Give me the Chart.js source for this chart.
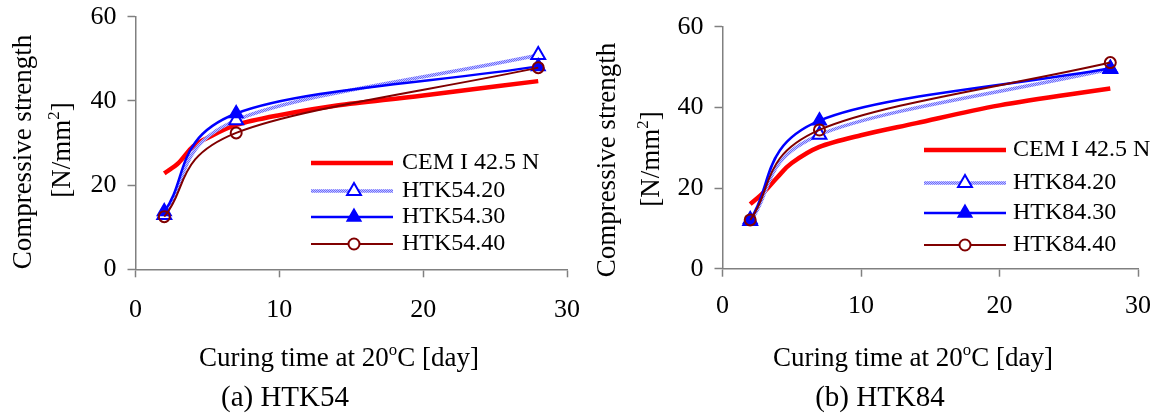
<!DOCTYPE html>
<html>
<head>
<meta charset="utf-8">
<script src="https://cdn.jsdelivr.net/npm/chart.js@4.4.1/dist/chart.umd.min.js"></script>
<style>
  body { margin: 0; background: #fff; width: 1160px; height: 415px; position: relative; overflow: hidden;
         font-family: 'Liberation Serif', 'Times New Roman', serif; color: #000; }
  .panel { position: absolute; top: 0; width: 580px; height: 415px; }
  .lbl { position: absolute; white-space: nowrap; line-height: 1; transform: translate(-50%, -50%); }
  .vlbl { position: absolute; white-space: nowrap; line-height: 1; transform: translate(-50%, -50%) rotate(-90deg); }
  sup { font-size: 0.62em; vertical-align: 0.62em; line-height: 0; }
</style>
</head>
<body>
<div class="panel" style="left:0"><canvas id="chartA" width="580" height="415"></canvas></div>
<div class="panel" style="left:580px"><canvas id="chartB" width="580" height="415"></canvas></div>

<!-- axis titles and captions -->
<div class="vlbl" style="left:22px; top:152px; font-size:27px">Compressive strength</div>
<div class="vlbl" style="left:61px; top:150px; font-size:27px">[N/mm<sup>2</sup>]</div>
<div class="lbl" style="left:339px; top:357px; font-size:27px">Curing time at 20<sup>o</sup>C [day]</div>
<div class="lbl" style="left:285px; top:396px; font-size:29px">(a) HTK54</div>

<div class="vlbl" style="left:606px; top:160px; font-size:27px">Compressive strength</div>
<div class="vlbl" style="left:650px; top:159px; font-size:27px">[N/mm<sup>2</sup>]</div>
<div class="lbl" style="left:913px; top:357px; font-size:27px">Curing time at 20<sup>o</sup>C [day]</div>
<div class="lbl" style="left:880px; top:396px; font-size:29px">(b) HTK84</div>

<script>
// Values

// curing days
const daysHTK = [2, 7, 28];
const daysCEM = [2, 3, 4, 5, 7, 10, 14, 20, 28];

// (a) HTK54
const cemA = [22.8, 25.3, 29.2, 31.2, 34.3, 36.6, 38.9, 41.3, 44.7];
const htk5420 = [12.9, 35.4, 50.9];
const htk5430 = [13.7, 37.0, 48.2];
const htk5440 = [12.5, 32.4, 47.9];

// (b) HTK84
const cemB = [16.0, 19.0, 22.8, 26.2, 30.2, 33.1, 36.1, 40.5, 44.7];
const htk8420 = [11.8, 33.2, 49.5];
const htk8430 = [12.2, 36.7, 49.7];
const htk8440 = [12.1, 34.4, 51.1];

// tick labels
const xTicks = [0, 10, 20, 30];
const yTicks = [0, 20, 40, 60];

const AXIS_GREY = '#808080';
const FONT = 'Liberation Serif';

// dotted light blue line like the original "HTK..20" series
function hatchPattern() {
    const c = document.createElement('canvas');
    c.width = 2; c.height = 2;
    const g = c.getContext('2d');
    g.fillStyle = '#c4c4ff';
    g.fillRect(0, 0, 2, 2);
    g.fillStyle = '#6a6aff';
    g.fillRect(0, 0, 1, 1);
    g.fillRect(1, 1, 1, 1);
    return g.createPattern(c, 'repeat');
}

function toXY(days, vals) {
    return days.map((d, i) => ({ x: d, y: vals[i] }));
}

function buildDatasets(names, cem, s20, s30, s40) {
    return [
        {
            label: names[0], data: toXY(daysCEM, cem),
            borderColor: '#ff0000', borderWidth: 4.5, pointRadius: 0, tension: 0.4, order: 4
        },
        {
            label: names[1], data: toXY(daysHTK, s20),
            borderColor: hatchPattern(), borderWidth: 3.5, tension: 0.4, order: 3,
            pointStyle: 'triangle', pointRadius: 8, pointBorderWidth: 2,
            pointBackgroundColor: '#ffffff', pointBorderColor: '#0000ff'
        },
        {
            label: names[2], data: toXY(daysHTK, s30),
            borderColor: '#0000ff', borderWidth: 2.5, tension: 0.4, order: 2,
            pointStyle: 'triangle', pointRadius: 8, pointBorderWidth: 1.5,
            pointBackgroundColor: '#0000ff', pointBorderColor: '#0000ff'
        },
        {
            label: names[3], data: toXY(daysHTK, s40),
            borderColor: '#800000', borderWidth: 2, tension: 0.4, order: 1,
            pointStyle: 'circle', pointRadius: 5.5, pointBorderWidth: 2,
            pointBackgroundColor: 'rgba(0,0,0,0)', pointBorderColor: '#800000'
        }
    ];
}

// Spreadsheet style smoothing: Catmull-Rom control points (1/6 of the
// neighbour difference, 1/3 of the chord at the ends) instead of
// Chart.js' distance weighted ones. Uses the positions the scales computed.
const excelSmooth = {
    id: 'excelSmooth',
    beforeDatasetDraw(chart, args) {
        const meta = args.meta;
        const pts = meta.data;
        if (!meta.dataset || pts.length < 2) return;
        meta.dataset.updateControlPoints(chart.chartArea, meta.indexAxis);
        const last = pts.length - 1;
        for (let i = 0; i <= last; i++) {
            const p = pts[i];
            let dx, dy;
            if (i === 0) {
                dx = (pts[1].x - p.x) / 3; dy = (pts[1].y - p.y) / 3;
            } else if (i === last) {
                dx = (p.x - pts[i - 1].x) / 3; dy = (p.y - pts[i - 1].y) / 3;
            } else {
                dx = (pts[i + 1].x - pts[i - 1].x) / 6; dy = (pts[i + 1].y - pts[i - 1].y) / 6;
            }
            p.cp1x = p.x - dx; p.cp1y = p.y - dy;
            p.cp2x = p.x + dx; p.cp2y = p.y + dy;
        }
    }
};

// legend drawn inside the plot, like the original
const insideLegend = {
    id: 'insideLegend',
    afterDatasetsDraw(chart, args, opts) {
        const ctx = chart.ctx;
        ctx.save();
        chart.data.datasets.forEach((ds, i) => {
            const y = opts.rows[i];
            ctx.strokeStyle = ds.borderColor;
            ctx.lineWidth = ds.borderWidth;
            ctx.beginPath();
            ctx.moveTo(opts.x1, y);
            ctx.lineTo(opts.x2, y);
            ctx.stroke();
            if (ds.pointRadius > 0) {
                ctx.fillStyle = ds.pointStyle === 'circle' ? '#ffffff' : ds.pointBackgroundColor;
                ctx.strokeStyle = ds.pointBorderColor;
                ctx.lineWidth = ds.pointBorderWidth;
                Chart.helpers.drawPoint(ctx, {
                    pointStyle: ds.pointStyle, radius: ds.pointRadius,
                    rotation: 0, borderWidth: ds.pointBorderWidth
                }, opts.xm, y);
            }
            ctx.fillStyle = '#000';
            ctx.font = '24px "' + FONT + '"';
            ctx.textBaseline = 'middle';
            ctx.textAlign = 'left';
            ctx.fillText(ds.label, opts.xt, y);
        });
        ctx.restore();
    }
};

function makeChart(id, datasets, lay) {
    const tickFont = { family: FONT, size: 26 };
    return new Chart(document.getElementById(id), {
        type: 'line',
        data: { datasets: datasets },
        plugins: [excelSmooth, insideLegend],
        options: {
            responsive: false,
            animation: false,
            devicePixelRatio: 1,
            layout: { padding: { left: 0, right: lay.padRight, top: lay.padTop, bottom: 0 } },
            plugins: {
                legend: { display: false },
                tooltip: { enabled: false },
                insideLegend: lay.legend
            },
            scales: {
                x: {
                    type: 'linear', min: 0, max: 30,
                    afterBuildTicks: s => { s.ticks = xTicks.map(v => ({ value: v })); },
                    ticks: { font: tickFont, color: '#000', padding: lay.xPad, maxRotation: 0 },
                    grid: { drawOnChartArea: false, drawTicks: true, tickLength: 8, tickColor: AXIS_GREY, tickWidth: 1.5 },
                    border: { display: true, color: AXIS_GREY, width: 1.5 },
                    afterFit: s => { s.height = lay.xHeight; s.paddingLeft = 0; s.paddingRight = 0; }
                },
                y: {
                    type: 'linear', min: 0, max: 60,
                    afterBuildTicks: s => { s.ticks = yTicks.map(v => ({ value: v })); },
                    ticks: { font: tickFont, color: '#000', padding: 11 },
                    grid: { drawOnChartArea: false, drawTicks: true, tickLength: 8, tickColor: AXIS_GREY, tickWidth: 1.5 },
                    border: { display: true, color: AXIS_GREY, width: 1.5 },
                    afterFit: s => { s.width = lay.yWidth; s.paddingTop = 0; s.paddingBottom = 0; }
                }
            }
        }
    });
}

makeChart('chartA',
    buildDatasets(['CEM I 42.5 N', 'HTK54.20', 'HTK54.30', 'HTK54.40'], cemA, htk5420, htk5430, htk5440),
    {
        yWidth: 135.5, xHeight: 145.7, padRight: 13, padTop: 16.7, xPad: 17,
        legend: { x1: 311, x2: 393, xm: 354, xt: 402, rows: [163, 191, 217, 244] }
    });

makeChart('chartB',
    buildDatasets(['CEM I 42.5 N', 'HTK84.20', 'HTK84.30', 'HTK84.40'], cemB, htk8420, htk8430, htk8440),
    {
        yWidth: 142.5, xHeight: 146.3, padRight: 22, padTop: 26.7, xPad: 14,
        legend: { x1: 344, x2: 426, xm: 385, xt: 433, rows: [150, 183, 213, 245] }
    });
</script>
</body>
</html>
